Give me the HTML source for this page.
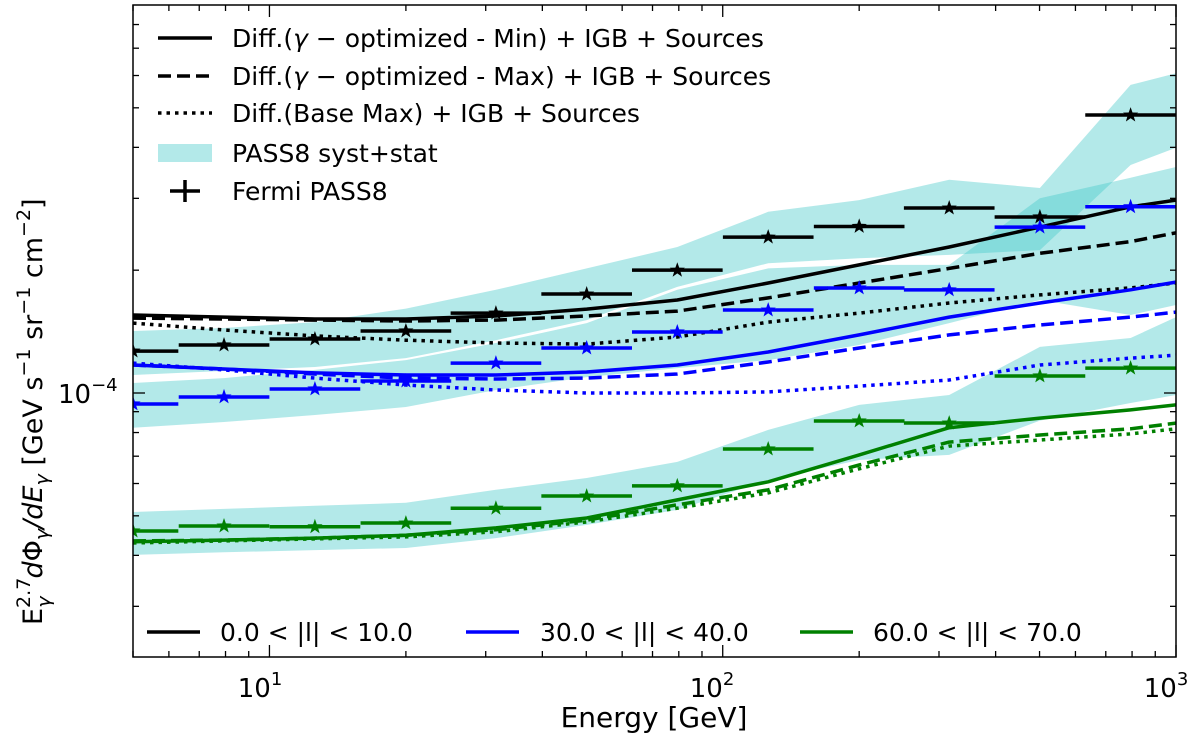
<!DOCTYPE html>
<html><head><meta charset="utf-8"><style>
html,body{margin:0;padding:0;background:#fff;}
svg{display:block;font-family:"DejaVu Sans","Liberation Sans",sans-serif;}
</style></head><body>
<svg id="chart" width="1200" height="741" viewBox="0 0 1200 741">
<defs><clipPath id="clip"><rect x="133" y="5" width="1043" height="652"/></clipPath></defs>
<g id="bands" clip-path="url(#clip)"></g>
<g id="models" clip-path="url(#clip)"></g>
<g id="points" clip-path="url(#clip)"></g>
<rect x="133" y="5" width="1043" height="652" fill="none" stroke="#000" stroke-width="1.5"/>
<g id="ticks"></g>
<g font-size="26" text-anchor="middle">
<text x="260" y="697">10<tspan font-size="18" dy="-12">1</tspan></text>
<text x="712" y="697">10<tspan font-size="18" dy="-12">2</tspan></text>
<text x="1166" y="697">10<tspan font-size="18" dy="-12">3</tspan></text>
</g>
<text x="58" y="403" font-size="26">10<tspan font-size="18" dy="-12">−4</tspan></text>
<text x="654" y="727" font-size="28" text-anchor="middle">Energy [GeV]</text>
<g transform="translate(42,625) rotate(-90)" font-size="27">
<text x="0" y="0">E<tspan font-size="19" dy="-12">2.7</tspan><tspan font-size="19" dy="20" dx="-30" font-style="italic">γ</tspan><tspan dy="-8" dx="18" font-style="italic">d</tspan><tspan>Φ</tspan><tspan font-size="19" dy="6" font-style="italic">γ</tspan><tspan dy="-6" font-style="italic">/dE</tspan><tspan font-size="19" dy="6" font-style="italic">γ</tspan><tspan dy="-6"> [GeV s</tspan><tspan font-size="19" dy="-12">−1</tspan><tspan dy="12"> sr</tspan><tspan font-size="19" dy="-12">−1</tspan><tspan dy="12"> cm</tspan><tspan font-size="19" dy="-12">−2</tspan><tspan dy="12">]</tspan></text>
</g>
<g font-size="25">
<g><line x1="158" y1="38" x2="212" y2="38" stroke="#000" stroke-width="3.5"/><text x="232" y="47">Diff.(<tspan font-style="italic">γ</tspan> − optimized - Min) + IGB + Sources</text></g>
<g><line x1="158" y1="76" x2="212" y2="76" stroke="#000" stroke-width="3.5" stroke-dasharray="13,6"/><text x="232" y="85">Diff.(<tspan font-style="italic">γ</tspan> − optimized - Max) + IGB + Sources</text></g>
<g><line x1="158" y1="113" x2="212" y2="113" stroke="#000" stroke-width="3.5" stroke-dasharray="3.5,5"/><text x="232" y="122">Diff.(Base Max) + IGB + Sources</text></g>
<g><rect x="158" y="144" width="54" height="18" fill="rgb(64,200,200)" fill-opacity="0.4"/><text x="232" y="162">PASS8 syst+stat</text></g>
<g><line x1="170" y1="191" x2="200" y2="191" stroke="#000" stroke-width="3.5"/><line x1="185" y1="180" x2="185" y2="202" stroke="#000" stroke-width="3.5"/><text x="232" y="200">Fermi PASS8</text></g>
</g>
<g font-size="25">
<g><line x1="147" y1="632" x2="200" y2="632" stroke="#000" stroke-width="3.5"/><text x="220" y="641">0.0 &lt; |l| &lt; 10.0</text></g>
<g><line x1="466" y1="632" x2="519" y2="632" stroke="#0000ff" stroke-width="3.5"/><text x="540" y="641">30.0 &lt; |l| &lt; 40.0</text></g>
<g><line x1="800" y1="632" x2="853" y2="632" stroke="#008000" stroke-width="3.5"/><text x="873" y="641">60.0 &lt; |l| &lt; 70.0</text></g>
</g>
</svg>
<script>
// energies at bin centres (GeV), last entry = right edge
const energies = [5, 7.94, 12.6, 20, 31.6, 50.1, 79.4, 126, 200, 316, 501, 794, 1000];
// model curves (units of 1e-4)
const blackMin = [1.553,1.535,1.518,1.518,1.544,1.606,1.690,1.860,2.06,2.28,2.55,2.86,2.97];
const blackMax = [1.526,1.518,1.509,1.501,1.509,1.544,1.588,1.71,1.86,2.02,2.20,2.35,2.47];
const blackBase = [1.484,1.427,1.380,1.347,1.326,1.318,1.372,1.492,1.570,1.662,1.74,1.81,1.86];
const blueMin = [1.171,1.145,1.120,1.107,1.107,1.126,1.171,1.260,1.388,1.535,1.662,1.79,1.87];
const blueMax = [1.171,1.145,1.113,1.088,1.082,1.088,1.113,1.191,1.289,1.388,1.468,1.535,1.579];
const blueBase = [1.184,1.139,1.088,1.046,1.017,1,1,1.006,1.040,1.076,1.171,1.218,1.238];
const greenMin = [0.432,0.436,0.441,0.448,0.467,0.494,0.547,0.606,0.705,0.822,0.868,0.909,0.935];
const greenMax = [0.434,0.436,0.441,0.448,0.462,0.488,0.532,0.579,0.666,0.758,0.789,0.817,0.844];
const greenBase = [0.429,0.434,0.439,0.444,0.457,0.483,0.522,0.569,0.652,0.741,0.767,0.794,0.817];
// syst+stat bands
const blackBandHi = [1.419,1.443,1.492,1.61,1.79,2.02,2.28,2.78,2.97,3.33,3.18,5.69,6.08];
const blackBandLo = [1.107,1.133,1.158,1.218,1.347,1.509,1.82,2.08,2.14,2.18,2.24,3.62,3.99];
const blueBandHi = [1.058,1.088,1.139,1.204,1.326,1.484,1.79,2.02,2.06,2.06,3.00,3.37,3.58];
const blueBandLo = [0.822,0.849,0.883,0.924,1.017,1.094,1.151,1.204,1.311,1.484,1.69,1.553,1.643];
const greenBandHi = [0.511,0.520,0.529,0.538,0.579,0.619,0.678,0.812,0.935,0.989,1.297,1.364,1.535];
const greenBandLo = [0.401,0.407,0.412,0.417,0.441,0.475,0.517,0.612,0.685,0.705,0.856,0.945,0.989];
// Fermi PASS8 points at bin centres
const binCenters = [5, 7.94, 12.6, 20, 31.6, 50.1, 79.4, 126, 200, 316, 501, 794];
const blackPts = [1.267,1.311,1.356,1.419,1.570,1.748,2.0,2.41,2.56,2.84,2.70,4.80];
const bluePts = [0.940,0.978,1.023,1.070,1.184,1.289,1.411,1.597,1.809,1.789,2.55,2.86];
const greenPts = [0.459,0.472,0.470,0.480,0.522,0.559,0.592,0.729,0.854,0.844,1.101,1.151];

const NS = 'http://www.w3.org/2000/svg';
const X0 = 133, X1 = 1176, LMIN = Math.log10(5), LMAX = 3;
function xs(e){ return X0 + (Math.log10(e) - LMIN) / (LMAX - LMIN) * (X1 - X0); }
function ys(v){ return 393 - 408 * Math.log10(v); }
function mk(tag, attrs, parent){ const el = document.createElementNS(NS, tag); for (const k in attrs) el.setAttribute(k, attrs[k]); parent.appendChild(el); return el; }

const bands = document.getElementById('bands');
[[blackBandHi, blackBandLo, 'black'], [blueBandHi, blueBandLo, 'blue'], [greenBandHi, greenBandLo, 'green']].forEach(([hi, lo, n]) => {
  let pts = energies.map((e,i) => xs(e).toFixed(1) + ',' + ys(hi[i]).toFixed(1));
  for (let i = energies.length - 1; i >= 0; i--) pts.push(xs(energies[i]).toFixed(1) + ',' + ys(lo[i]).toFixed(1));
  const p = mk('polygon', {points: pts.join(' '), fill: 'rgb(64,200,200)', 'fill-opacity': '0.4'}, bands);
  
  
});

const models = document.getElementById('models');
const series = [
  [blackMin,'#000','','black-min'],[blackMax,'#000','13,6','black-max'],[blackBase,'#000','3.5,5','black-base'],
  [blueMin,'#0000ff','','blue-min'],[blueMax,'#0000ff','13,6','blue-max'],[blueBase,'#0000ff','3.5,5','blue-base'],
  [greenMin,'#008000','','green-min'],[greenMax,'#008000','13,6','green-max'],[greenBase,'#008000','3.5,5','green-base']];
series.forEach(([vals, col, dash, n]) => {
  const d = energies.map((e,i) => (i ? 'L' : 'M') + xs(e).toFixed(1) + ' ' + ys(vals[i]).toFixed(1)).join(' ');
  const attrs = {d: d, fill: 'none', stroke: col, 'stroke-width': '3.5', 'stroke-linejoin': 'round'};
  if (dash) attrs['stroke-dasharray'] = dash;
  const p = mk('path', attrs, models);
  
  
});

function star(cx, cy, r){
  let s = [];
  for (let k = 0; k < 10; k++){ const a = -Math.PI/2 + k*Math.PI/5; const rr = k%2 ? r*0.4 : r; s.push((cx + rr*Math.cos(a)).toFixed(1) + ',' + (cy + rr*Math.sin(a)).toFixed(1)); }
  return s.join(' ');
}
const points = document.getElementById('points');
[[blackPts,'#000','black'],[bluePts,'#0000ff','blue'],[greenPts,'#008000','green']].forEach(([vals, col, n]) => {
  binCenters.forEach((c, i) => {
    const y = ys(vals[i]);
    const g = mk('g', {}, points);
    
    
    mk('line', {x1: xs(c/Math.pow(10,0.1)), x2: xs(c*Math.pow(10,0.1)), y1: y, y2: y, stroke: col, 'stroke-width': '3.5'}, g);
    mk('polygon', {points: star(xs(c), y, 8), fill: col}, g);
  });
});

const ticks = document.getElementById('ticks');
for (let dec = 0; dec <= 3; dec++) for (let m = 1; m <= 9; m++){
  const e = m * Math.pow(10, dec);
  if (e < 5 || e > 1000) continue;
  const x = xs(e), len = m === 1 ? 12 : 6;
  mk('line', {x1: x, x2: x, y1: 657, y2: 657 - len, stroke: '#000', 'stroke-width': '1.3'}, ticks);
  mk('line', {x1: x, x2: x, y1: 5, y2: 5 + len, stroke: '#000', 'stroke-width': '1.3'}, ticks);
}
for (let dec = -5; dec <= -3; dec++) for (let m = 1; m <= 9; m++){
  const v = m * Math.pow(10, dec + 4);
  const y = ys(v);
  if (y < 5 || y > 657) continue;
  const len = m === 1 ? 12 : 6;
  mk('line', {x1: 133, x2: 133 + len, y1: y, y2: y, stroke: '#000', 'stroke-width': '1.3'}, ticks);
  mk('line', {x1: 1176, x2: 1176 - len, y1: y, y2: y, stroke: '#000', 'stroke-width': '1.3'}, ticks);
}
</script>
</body></html>
